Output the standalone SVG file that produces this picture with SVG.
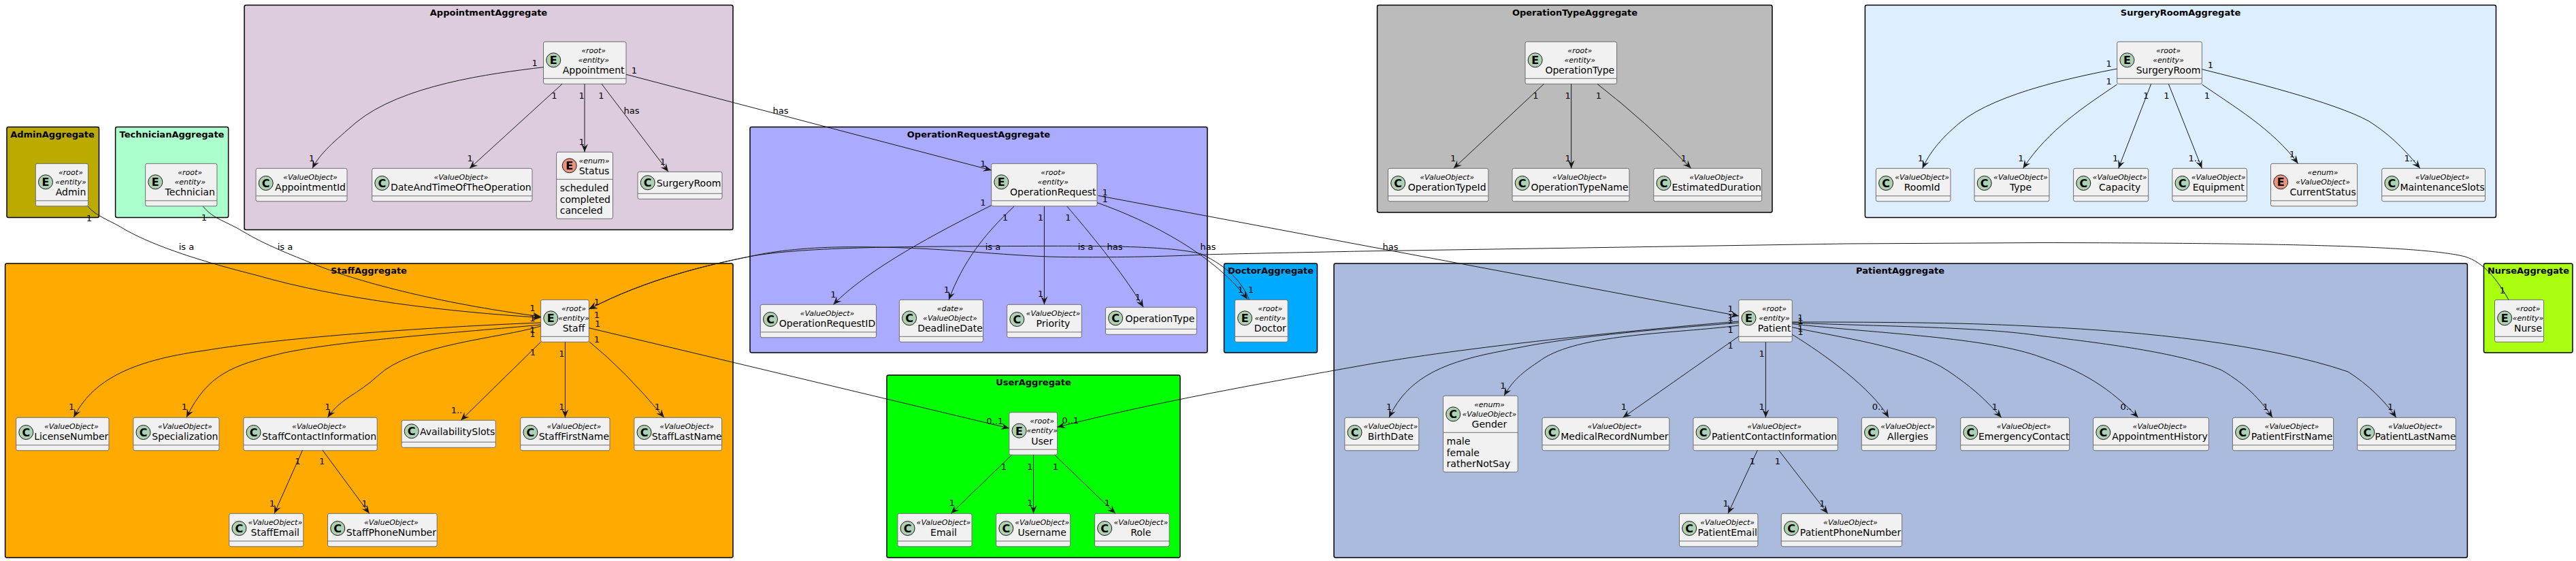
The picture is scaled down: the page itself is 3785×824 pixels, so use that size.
<svg xmlns="http://www.w3.org/2000/svg" width="3785" height="824" viewBox="0 0 3785 824">
<style>
text{font-family:"DejaVu Sans","Liberation Sans",sans-serif;fill:#000;text-anchor:middle}
.f{stroke:#000;stroke-width:1.5}
.ft{font-size:13px;font-weight:bold}
.b{fill:#F1F1F1;stroke:#6e6e6e;stroke-width:1}
.d{stroke:#6e6e6e;stroke-width:1}
.c{fill:#ADD1B2;stroke:#181818;stroke-width:1}
.r{fill:#EB937F;stroke:#181818;stroke-width:1}
.l{font-size:16px;font-weight:bold}
.s{font-size:11px;font-style:italic}
.n{font-size:14px}
.m{font-size:14px;text-anchor:start}
.e{fill:none;stroke:#181818;stroke-width:1}
.a{marker-end:url(#arr)}
.t{font-size:13px}
</style>
<defs>
<marker id="arr" markerUnits="userSpaceOnUse" markerWidth="14" markerHeight="13" refX="13" refY="6.5" orient="auto"><path d="M1,1.5 L13,6.5 L1,11.5 L5.5,6.5 Z" fill="#181818"/></marker>
</defs>
<rect width="3785" height="824" fill="#FFFFFF"/>

<g id="frames">
<g id="AdminAggregate"><rect class="f" x="10" y="186.5" width="135.5" height="133" rx="2.5" fill="#BBAA00"/><text class="ft" x="77" y="202">AdminAggregate</text></g>
<g id="TechnicianAggregate"><rect class="f" x="169.6" y="186.5" width="166" height="133" rx="2.5" fill="#AAFFCC"/><text class="ft" x="252.5" y="202">TechnicianAggregate</text></g>
<g id="AppointmentAggregate"><rect class="f" x="359" y="7.5" width="718" height="330" rx="2.5" fill="#DDCCDD"/><text class="ft" x="718" y="23">AppointmentAggregate</text></g>
<g id="StaffAggregate"><rect class="f" x="7.6" y="387" width="1069.4" height="432" rx="2.5" fill="#FFAA00"/><text class="ft" x="542" y="402">StaffAggregate</text></g>
<g id="OperationRequestAggregate"><rect class="f" x="1102" y="186.5" width="672" height="331.5" rx="2.5" fill="#AAAAFF"/><text class="ft" x="1438" y="202">OperationRequestAggregate</text></g>
<g id="DoctorAggregate"><rect class="f" x="1798.5" y="387" width="137" height="131" rx="2.5" fill="#00AAFF"/><text class="ft" x="1867" y="402">DoctorAggregate</text></g>
<g id="UserAggregate"><rect class="f" x="1303" y="551" width="431" height="268" rx="2.5" fill="#00FF00"/><text class="ft" x="1518.5" y="566">UserAggregate</text></g>
<g id="PatientAggregate"><rect class="f" x="1960" y="387" width="1665.4" height="432" rx="2.5" fill="#AABBDD"/><text class="ft" x="2792" y="402">PatientAggregate</text></g>
<g id="NurseAggregate"><rect class="f" x="3649.5" y="387" width="130.5" height="131" rx="2.5" fill="#AAFF11"/><text class="ft" x="3715" y="402">NurseAggregate</text></g>
<g id="OperationTypeAggregate"><rect class="f" x="2023.6" y="7.5" width="580.4" height="304.5" rx="2.5" fill="#BBBBBB"/><text class="ft" x="2314" y="23">OperationTypeAggregate</text></g>
<g id="SurgeryRoomAggregate"><rect class="f" x="2740.4" y="7.5" width="927.1" height="312" rx="2.5" fill="#DDEEFF"/><text class="ft" x="3204" y="23">SurgeryRoomAggregate</text></g>
</g>

<g id="nodes">
<g id="Admin"><rect class="b" x="52.3" y="240.3" width="77.2" height="62.5" rx="2.5"/><line class="d" x1="52.3" x2="129.5" y1="294.8" y2="294.8"/><circle class="c" cx="67" cy="267.3" r="10.5"/><text class="l" x="67" y="273.3">E</text><text class="s" x="104" y="256.7">«root»</text><text class="s" x="104" y="271">«entity»</text><text class="n" x="104" y="287.3">Admin</text></g>
<g id="Technician"><rect class="b" x="213.6" y="240.3" width="105.3" height="62.5" rx="2.5"/><line class="d" x1="213.6" x2="318.9" y1="294.8" y2="294.8"/><circle class="c" cx="228.3" cy="267.3" r="10.5"/><text class="l" x="228.3" y="273.3">E</text><text class="s" x="279.2" y="256.7">«root»</text><text class="s" x="279.2" y="271">«entity»</text><text class="n" x="279.2" y="287.3">Technician</text></g>
<g id="Appointment"><rect class="b" x="798.5" y="61.3" width="121.5" height="62" rx="2.5"/><line class="d" x1="798.5" x2="920" y1="115.3" y2="115.3"/><circle class="c" cx="813.2" cy="88.3" r="10.5"/><text class="l" x="813.2" y="94.3">E</text><text class="s" x="872.2" y="77.7">«root»</text><text class="s" x="872.2" y="92">«entity»</text><text class="n" x="872.2" y="108.3">Appointment</text></g>
<g id="AppointmentId"><rect class="b" x="376" y="247.3" width="134" height="48.5" rx="2.5"/><line class="d" x1="376" x2="510" y1="287.8" y2="287.8"/><circle class="c" cx="390.7" cy="269" r="10.5"/><text class="l" x="390.7" y="275">C</text><text class="s" x="456" y="264">«ValueObject»</text><text class="n" x="456" y="279.7">AppointmentId</text></g>
<g id="DateAndTimeOfTheOperation"><rect class="b" x="546.6" y="247.3" width="235.4" height="48.5" rx="2.5"/><line class="d" x1="546.6" x2="782" y1="287.8" y2="287.8"/><circle class="c" cx="561.3" cy="269" r="10.5"/><text class="l" x="561.3" y="275">C</text><text class="s" x="677.3" y="264">«ValueObject»</text><text class="n" x="677.3" y="279.7">DateAndTimeOfTheOperation</text></g>
<g id="Status"><rect class="b" x="817.6" y="223.3" width="82.9" height="98" rx="2.5"/><line class="d" x1="817.6" x2="900.5" y1="263.3" y2="263.3"/><circle class="r" cx="836.7" cy="243.3" r="10.5"/><text class="l" x="836.7" y="249.3">E</text><text class="s" x="873" y="240">«enum»</text><text class="n" x="873" y="256">Status</text><text class="m" x="822.7" y="280.5">scheduled</text><text class="m" x="822.7" y="297.5">completed</text><text class="m" x="822.7" y="314">canceled</text></g>
<g id="SurgeryRoom"><rect class="b" x="937" y="252.3" width="124" height="40" rx="2.5"/><line class="d" x1="937" x2="1061" y1="284.3" y2="284.3"/><circle class="c" cx="951.7" cy="268.3" r="10.5"/><text class="l" x="951.7" y="274.3">C</text><text class="n" x="1012" y="273.8">SurgeryRoom</text></g>

<g id="Staff"><rect class="b" x="794.6" y="440.3" width="70.8" height="62" rx="2.5"/><line class="d" x1="794.6" x2="865.4" y1="494.3" y2="494.3"/><circle class="c" cx="809.3" cy="467.3" r="10.5"/><text class="l" x="809.3" y="473.3">E</text><text class="s" x="843" y="456.7">«root»</text><text class="s" x="843" y="471">«entity»</text><text class="n" x="843" y="487.3">Staff</text></g>
<g id="LicenseNumber"><rect class="b" x="23.6" y="613.3" width="136.4" height="48.5" rx="2.5"/><line class="d" x1="23.6" x2="160" y1="653.8" y2="653.8"/><circle class="c" cx="38.3" cy="635" r="10.5"/><text class="l" x="38.3" y="641">C</text><text class="s" x="104.8" y="630">«ValueObject»</text><text class="n" x="104.8" y="645.7">LicenseNumber</text></g>
<g id="Specialization"><rect class="b" x="195.8" y="613.3" width="126.2" height="48.5" rx="2.5"/><line class="d" x1="195.8" x2="322" y1="653.8" y2="653.8"/><circle class="c" cx="210.5" cy="635" r="10.5"/><text class="l" x="210.5" y="641">C</text><text class="s" x="271.9" y="630">«ValueObject»</text><text class="n" x="271.9" y="645.7">Specialization</text></g>
<g id="StaffContactInformation"><rect class="b" x="357.8" y="613.3" width="196.4" height="48.5" rx="2.5"/><line class="d" x1="357.8" x2="554.2" y1="653.8" y2="653.8"/><circle class="c" cx="372.5" cy="635" r="10.5"/><text class="l" x="372.5" y="641">C</text><text class="s" x="469" y="630">«ValueObject»</text><text class="n" x="469" y="645.7">StaffContactInformation</text></g>
<g id="AvailabilitySlots"><rect class="b" x="590" y="617.3" width="138.3" height="40" rx="2.5"/><line class="d" x1="590" x2="728.3" y1="649.3" y2="649.3"/><circle class="c" cx="604.7" cy="633.3" r="10.5"/><text class="l" x="604.7" y="639.3">C</text><text class="n" x="672.2" y="638.8">AvailabilitySlots</text></g>
<g id="StaffFirstName"><rect class="b" x="764.7" y="613.3" width="131.3" height="48.5" rx="2.5"/><line class="d" x1="764.7" x2="896" y1="653.8" y2="653.8"/><circle class="c" cx="779.4" cy="635" r="10.5"/><text class="l" x="779.4" y="641">C</text><text class="s" x="843.4" y="630">«ValueObject»</text><text class="n" x="843.4" y="645.7">StaffFirstName</text></g>
<g id="StaffLastName"><rect class="b" x="931.8" y="613.3" width="128.8" height="48.5" rx="2.5"/><line class="d" x1="931.8" x2="1060.6" y1="653.8" y2="653.8"/><circle class="c" cx="946.5" cy="635" r="10.5"/><text class="l" x="946.5" y="641">C</text><text class="s" x="1009.2" y="630">«ValueObject»</text><text class="n" x="1009.2" y="645.7">StaffLastName</text></g>
<g id="StaffEmail"><rect class="b" x="336.7" y="754.3" width="109.1" height="48.5" rx="2.5"/><line class="d" x1="336.7" x2="445.8" y1="794.8" y2="794.8"/><circle class="c" cx="351.4" cy="776" r="10.5"/><text class="l" x="351.4" y="782">C</text><text class="s" x="404.3" y="771">«ValueObject»</text><text class="n" x="404.3" y="786.7">StaffEmail</text></g>
<g id="StaffPhoneNumber"><rect class="b" x="481.5" y="754.3" width="160.7" height="48.5" rx="2.5"/><line class="d" x1="481.5" x2="642.2" y1="794.8" y2="794.8"/><circle class="c" cx="496.2" cy="776" r="10.5"/><text class="l" x="496.2" y="782">C</text><text class="s" x="574.9" y="771">«ValueObject»</text><text class="n" x="574.9" y="786.7">StaffPhoneNumber</text></g>

<g id="OperationRequest"><rect class="b" x="1456.6" y="240.3" width="155.4" height="62.5" rx="2.5"/><line class="d" x1="1456.6" x2="1612" y1="294.8" y2="294.8"/><circle class="c" cx="1471.3" cy="267.3" r="10.5"/><text class="l" x="1471.3" y="273.3">E</text><text class="s" x="1547.3" y="256.7">«root»</text><text class="s" x="1547.3" y="271">«entity»</text><text class="n" x="1547.3" y="287.3">OperationRequest</text></g>
<g id="OperationRequestID"><rect class="b" x="1117.3" y="447.3" width="170.3" height="48.5" rx="2.5"/><line class="d" x1="1117.3" x2="1287.6" y1="487.8" y2="487.8"/><circle class="c" cx="1132" cy="469" r="10.5"/><text class="l" x="1132" y="475">C</text><text class="s" x="1215.5" y="464">«ValueObject»</text><text class="n" x="1215.5" y="479.7">OperationRequestID</text></g>
<g id="DeadlineDate"><rect class="b" x="1321.4" y="440.3" width="123.1" height="62" rx="2.5"/><line class="d" x1="1321.4" x2="1444.5" y1="494.3" y2="494.3"/><circle class="c" cx="1336.1" cy="467.3" r="10.5"/><text class="l" x="1336.1" y="473.3">C</text><text class="s" x="1396" y="456.7">«date»</text><text class="s" x="1396" y="471">«ValueObject»</text><text class="n" x="1396" y="487.3">DeadlineDate</text></g>
<g id="Priority"><rect class="b" x="1479.6" y="447.3" width="109.7" height="48.5" rx="2.5"/><line class="d" x1="1479.6" x2="1589.3" y1="487.8" y2="487.8"/><circle class="c" cx="1494.3" cy="469" r="10.5"/><text class="l" x="1494.3" y="475">C</text><text class="s" x="1547.5" y="464">«ValueObject»</text><text class="n" x="1547.5" y="479.7">Priority</text></g>
<g id="OperationTypeRef"><rect class="b" x="1624.4" y="451.3" width="133.9" height="40" rx="2.5"/><line class="d" x1="1624.4" x2="1758.3" y1="483.3" y2="483.3"/><circle class="c" cx="1639.1" cy="467.3" r="10.5"/><text class="l" x="1639.1" y="473.3">C</text><text class="n" x="1704.4" y="472.8">OperationType</text></g>
<g id="Doctor"><rect class="b" x="1814.4" y="440.3" width="77.8" height="62" rx="2.5"/><line class="d" x1="1814.4" x2="1892.2" y1="494.3" y2="494.3"/><circle class="c" cx="1829.1" cy="467.3" r="10.5"/><text class="l" x="1829.1" y="473.3">E</text><text class="s" x="1866.3" y="456.7">«root»</text><text class="s" x="1866.3" y="471">«entity»</text><text class="n" x="1866.3" y="487.3">Doctor</text></g>

<g id="User"><rect class="b" x="1482.8" y="605.7" width="70.8" height="62.5" rx="2.5"/><line class="d" x1="1482.8" x2="1553.6" y1="660.2" y2="660.2"/><circle class="c" cx="1497.5" cy="632.7" r="10.5"/><text class="l" x="1497.5" y="638.7">E</text><text class="s" x="1531.2" y="622">«root»</text><text class="s" x="1531.2" y="636.4">«entity»</text><text class="n" x="1531.2" y="652.7">User</text></g>
<g id="Email"><rect class="b" x="1318.9" y="754.3" width="109.1" height="48.5" rx="2.5"/><line class="d" x1="1318.9" x2="1428" y1="794.8" y2="794.8"/><circle class="c" cx="1333.6" cy="776" r="10.5"/><text class="l" x="1333.6" y="782">C</text><text class="s" x="1386.5" y="771">«ValueObject»</text><text class="n" x="1386.5" y="786.7">Email</text></g>
<g id="Username"><rect class="b" x="1463.6" y="754.3" width="109.1" height="48.5" rx="2.5"/><line class="d" x1="1463.6" x2="1572.7" y1="794.8" y2="794.8"/><circle class="c" cx="1478.3" cy="776" r="10.5"/><text class="l" x="1478.3" y="782">C</text><text class="s" x="1531.2" y="771">«ValueObject»</text><text class="n" x="1531.2" y="786.7">Username</text></g>
<g id="Role"><rect class="b" x="1608.4" y="754.3" width="109.7" height="48.5" rx="2.5"/><line class="d" x1="1608.4" x2="1718.1" y1="794.8" y2="794.8"/><circle class="c" cx="1623.1" cy="776" r="10.5"/><text class="l" x="1623.1" y="782">C</text><text class="s" x="1676.3" y="771">«ValueObject»</text><text class="n" x="1676.3" y="786.7">Role</text></g>

<g id="OperationType"><rect class="b" x="2241" y="61.3" width="134.6" height="62" rx="2.5"/><line class="d" x1="2241" x2="2375.6" y1="115.3" y2="115.3"/><circle class="c" cx="2255.7" cy="88.3" r="10.5"/><text class="l" x="2255.7" y="94.3">E</text><text class="s" x="2321.3" y="77.7">«root»</text><text class="s" x="2321.3" y="92">«entity»</text><text class="n" x="2321.3" y="108.3">OperationType</text></g>
<g id="OperationTypeId"><rect class="b" x="2039.5" y="247.3" width="147.4" height="48.5" rx="2.5"/><line class="d" x1="2039.5" x2="2186.9" y1="287.8" y2="287.8"/><circle class="c" cx="2054.2" cy="269" r="10.5"/><text class="l" x="2054.2" y="275">C</text><text class="s" x="2126.2" y="264">«ValueObject»</text><text class="n" x="2126.2" y="279.7">OperationTypeId</text></g>
<g id="OperationTypeName"><rect class="b" x="2222" y="247.3" width="172" height="48.5" rx="2.5"/><line class="d" x1="2222" x2="2394" y1="287.8" y2="287.8"/><circle class="c" cx="2236.7" cy="269" r="10.5"/><text class="l" x="2236.7" y="275">C</text><text class="s" x="2321" y="264">«ValueObject»</text><text class="n" x="2321" y="279.7">OperationTypeName</text></g>
<g id="EstimatedDuration"><rect class="b" x="2429.8" y="247.3" width="158.8" height="48.5" rx="2.5"/><line class="d" x1="2429.8" x2="2588.6" y1="287.8" y2="287.8"/><circle class="c" cx="2444.5" cy="269" r="10.5"/><text class="l" x="2444.5" y="275">C</text><text class="s" x="2522.2" y="264">«ValueObject»</text><text class="n" x="2522.2" y="279.7">EstimatedDuration</text></g>

<g id="SurgeryRoomRoot"><rect class="b" x="3110.7" y="61.3" width="124.7" height="62" rx="2.5"/><line class="d" x1="3110.7" x2="3235.4" y1="115.3" y2="115.3"/><circle class="c" cx="3125.4" cy="88.3" r="10.5"/><text class="l" x="3125.4" y="94.3">E</text><text class="s" x="3186" y="77.7">«root»</text><text class="s" x="3186" y="92">«entity»</text><text class="n" x="3186" y="108.3">SurgeryRoom</text></g>
<g id="RoomId"><rect class="b" x="2756.4" y="247.3" width="109.6" height="48.5" rx="2.5"/><line class="d" x1="2756.4" x2="2866" y1="287.8" y2="287.8"/><circle class="c" cx="2771.1" cy="269" r="10.5"/><text class="l" x="2771.1" y="275">C</text><text class="s" x="2824.2" y="264">«ValueObject»</text><text class="n" x="2824.2" y="279.7">RoomId</text></g>
<g id="Type"><rect class="b" x="2901" y="247.3" width="110" height="48.5" rx="2.5"/><line class="d" x1="2901" x2="3011" y1="287.8" y2="287.8"/><circle class="c" cx="2915.7" cy="269" r="10.5"/><text class="l" x="2915.7" y="275">C</text><text class="s" x="2969" y="264">«ValueObject»</text><text class="n" x="2969" y="279.7">Type</text></g>
<g id="Capacity"><rect class="b" x="3046.6" y="247.3" width="110.1" height="48.5" rx="2.5"/><line class="d" x1="3046.6" x2="3156.7" y1="287.8" y2="287.8"/><circle class="c" cx="3061.3" cy="269" r="10.5"/><text class="l" x="3061.3" y="275">C</text><text class="s" x="3114.7" y="264">«ValueObject»</text><text class="n" x="3114.7" y="279.7">Capacity</text></g>
<g id="Equipment"><rect class="b" x="3191.8" y="247.3" width="109.7" height="48.5" rx="2.5"/><line class="d" x1="3191.8" x2="3301.5" y1="287.8" y2="287.8"/><circle class="c" cx="3206.5" cy="269" r="10.5"/><text class="l" x="3206.5" y="275">C</text><text class="s" x="3259.7" y="264">«ValueObject»</text><text class="n" x="3259.7" y="279.7">Equipment</text></g>
<g id="CurrentStatus"><rect class="b" x="3336.5" y="240.3" width="127.2" height="62.5" rx="2.5"/><line class="d" x1="3336.5" x2="3463.7" y1="294.8" y2="294.8"/><circle class="r" cx="3351.2" cy="267.3" r="10.5"/><text class="l" x="3351.2" y="273.3">E</text><text class="s" x="3413.1" y="256.7">«enum»</text><text class="s" x="3413.1" y="271">«ValueObject»</text><text class="n" x="3413.1" y="287.3">CurrentStatus</text></g>
<g id="MaintenanceSlots"><rect class="b" x="3499.7" y="247.3" width="151.8" height="48.5" rx="2.5"/><line class="d" x1="3499.7" x2="3651.5" y1="287.8" y2="287.8"/><circle class="c" cx="3514.4" cy="269" r="10.5"/><text class="l" x="3514.4" y="275">C</text><text class="s" x="3588.6" y="264">«ValueObject»</text><text class="n" x="3588.6" y="279.7">MaintenanceSlots</text></g>

<g id="Patient"><rect class="b" x="2554.8" y="440.3" width="78.5" height="62" rx="2.5"/><line class="d" x1="2554.8" x2="2633.3" y1="494.3" y2="494.3"/><circle class="c" cx="2569.5" cy="467.3" r="10.5"/><text class="l" x="2569.5" y="473.3">E</text><text class="s" x="2607" y="456.7">«root»</text><text class="s" x="2607" y="471">«entity»</text><text class="n" x="2607" y="487.3">Patient</text></g>
<g id="BirthDate"><rect class="b" x="1975.8" y="613.3" width="109" height="48.5" rx="2.5"/><line class="d" x1="1975.8" x2="2084.8" y1="653.8" y2="653.8"/><circle class="c" cx="1990.5" cy="635" r="10.5"/><text class="l" x="1990.5" y="641">C</text><text class="s" x="2043.3" y="630">«ValueObject»</text><text class="n" x="2043.3" y="645.7">BirthDate</text></g>
<g id="Gender"><rect class="b" x="2120.5" y="581.3" width="109.7" height="112" rx="2.5"/><line class="d" x1="2120.5" x2="2230.2" y1="635.3" y2="635.3"/><circle class="c" cx="2135.2" cy="608.3" r="10.5"/><text class="l" x="2135.2" y="614.3">C</text><text class="s" x="2188.4" y="597.7">«enum»</text><text class="s" x="2188.4" y="612">«ValueObject»</text><text class="n" x="2188.4" y="628.3">Gender</text><text class="m" x="2125.6" y="652.5">male</text><text class="m" x="2125.6" y="669.5">female</text><text class="m" x="2125.6" y="685.5">ratherNotSay</text></g>
<g id="MedicalRecordNumber"><rect class="b" x="2266" y="613.3" width="186.8" height="48.5" rx="2.5"/><line class="d" x1="2266" x2="2452.8" y1="653.8" y2="653.8"/><circle class="c" cx="2280.7" cy="635" r="10.5"/><text class="l" x="2280.7" y="641">C</text><text class="s" x="2372.4" y="630">«ValueObject»</text><text class="n" x="2372.4" y="645.7">MedicalRecordNumber</text></g>
<g id="PatientContactInformation"><rect class="b" x="2487.9" y="613.3" width="212.4" height="48.5" rx="2.5"/><line class="d" x1="2487.9" x2="2700.3" y1="653.8" y2="653.8"/><circle class="c" cx="2502.6" cy="635" r="10.5"/><text class="l" x="2502.6" y="641">C</text><text class="s" x="2607.1" y="630">«ValueObject»</text><text class="n" x="2607.1" y="645.7">PatientContactInformation</text></g>
<g id="Allergies"><rect class="b" x="2735.3" y="613.3" width="109.7" height="48.5" rx="2.5"/><line class="d" x1="2735.3" x2="2845" y1="653.8" y2="653.8"/><circle class="c" cx="2750" cy="635" r="10.5"/><text class="l" x="2750" y="641">C</text><text class="s" x="2803.2" y="630">«ValueObject»</text><text class="n" x="2803.2" y="645.7">Allergies</text></g>
<g id="EmergencyContact"><rect class="b" x="2880.7" y="613.3" width="159.9" height="48.5" rx="2.5"/><line class="d" x1="2880.7" x2="3040.6" y1="653.8" y2="653.8"/><circle class="c" cx="2895.4" cy="635" r="10.5"/><text class="l" x="2895.4" y="641">C</text><text class="s" x="2973.7" y="630">«ValueObject»</text><text class="n" x="2973.7" y="645.7">EmergencyContact</text></g>
<g id="AppointmentHistory"><rect class="b" x="3075.6" y="613.3" width="169.8" height="48.5" rx="2.5"/><line class="d" x1="3075.6" x2="3245.4" y1="653.8" y2="653.8"/><circle class="c" cx="3090.3" cy="635" r="10.5"/><text class="l" x="3090.3" y="641">C</text><text class="s" x="3173.5" y="630">«ValueObject»</text><text class="n" x="3173.5" y="645.7">AppointmentHistory</text></g>
<g id="PatientFirstName"><rect class="b" x="3280.4" y="613.3" width="148.2" height="48.5" rx="2.5"/><line class="d" x1="3280.4" x2="3428.6" y1="653.8" y2="653.8"/><circle class="c" cx="3295.1" cy="635" r="10.5"/><text class="l" x="3295.1" y="641">C</text><text class="s" x="3367.5" y="630">«ValueObject»</text><text class="n" x="3367.5" y="645.7">PatientFirstName</text></g>
<g id="PatientLastName"><rect class="b" x="3463.7" y="613.3" width="144.7" height="48.5" rx="2.5"/><line class="d" x1="3463.7" x2="3608.4" y1="653.8" y2="653.8"/><circle class="c" cx="3478.4" cy="635" r="10.5"/><text class="l" x="3478.4" y="641">C</text><text class="s" x="3549" y="630">«ValueObject»</text><text class="n" x="3549" y="645.7">PatientLastName</text></g>
<g id="PatientEmail"><rect class="b" x="2467.5" y="754.3" width="115.4" height="48.5" rx="2.5"/><line class="d" x1="2467.5" x2="2582.9" y1="794.8" y2="794.8"/><circle class="c" cx="2482.2" cy="776" r="10.5"/><text class="l" x="2482.2" y="782">C</text><text class="s" x="2538.2" y="771">«ValueObject»</text><text class="n" x="2538.2" y="786.7">PatientEmail</text></g>
<g id="PatientPhoneNumber"><rect class="b" x="2617.3" y="754.3" width="177.3" height="48.5" rx="2.5"/><line class="d" x1="2617.3" x2="2794.6" y1="794.8" y2="794.8"/><circle class="c" cx="2632" cy="776" r="10.5"/><text class="l" x="2632" y="782">C</text><text class="s" x="2719" y="771">«ValueObject»</text><text class="n" x="2719" y="786.7">PatientPhoneNumber</text></g>
<g id="Nurse"><rect class="b" x="3665.5" y="440.3" width="72.1" height="62" rx="2.5"/><line class="d" x1="3665.5" x2="3737.6" y1="494.3" y2="494.3"/><circle class="c" cx="3680.2" cy="467.3" r="10.5"/><text class="l" x="3680.2" y="473.3">E</text><text class="s" x="3714.5" y="456.7">«root»</text><text class="s" x="3714.5" y="471">«entity»</text><text class="n" x="3714.5" y="487.3">Nurse</text></g>
</g>

<g id="connectors">
<path class="e a" d="M129,303 C141,318 165,325 185,338 C230,363 300,385 376,404 C500,440 660,458 794.6,466.5"/>
<path class="e a" d="M298.5,303.3 C313,322 335,326 357,340 C390,360 430,375 459,387 C520,412 640,445 794.6,465"/>
<path class="e a" d="M1835.5,440 C1825,415 1805,392 1765,373 C1720,361 1620,361 1500,361.5 C1350,362 1180,362 1102,376.7 C1040,389 950,410 865.4,454"/>
<path class="e a" d="M3686,440.3 C3670,412 3650,385 3621,376.7 C3560,362 3380,357 3000,356.5 L2713,358 L2000,369 C1950,370 1800,373 1771,374 C1680,378 1620,378 1560,377.5 C1470,376 1380,362 1249,362.7 C1190,363 1140,368 1102,376.7 C1040,389 950,410 865.4,454"/>
<path class="e a" d="M865.4,481.7 L1482.8,629"/>
<path class="e a" d="M2554.8,472 C2400,485 2150,510 2000,537 C1860,562 1700,590 1553.6,627.3"/>
<path class="e a" d="M794.6,474 C640,480 420,495 300,515 C190,530 135,560 108.4,613"/>
<path class="e a" d="M794.6,477 C680,488 500,500 414,519 C340,537 305,550 274,613"/>
<path class="e a" d="M794.6,479 C735,497 605,505 555,552 C525,580 500,585 481.5,613"/>
<path class="e a" d="M794.6,502.3 L677.3,617.3"/>
<path class="e a" d="M830.4,502.3 L830.4,613.3"/>
<path class="e a" d="M866,502 Q918,544 975.8,613.3"/>
<path class="e a" d="M444.5,661.3 L403,754.3"/>
<path class="e a" d="M474,661.3 L542.7,754.3"/>
<path class="e a" d="M798.5,98.7 C720,108 590,125 523,180 C492,207 470,225 459,247.3"/>
<path class="e a" d="M826,123.3 L690,247.3"/>
<path class="e a" d="M859,123.3 L859,223.3"/>
<path class="e a" d="M884,123.3 L982,252.3"/>
<path class="e a" d="M920,109.3 L1456.6,250"/>
<path class="e a" d="M1456.6,301.7 C1380,340 1275,395 1224.5,447.3"/>
<path class="e a" d="M1490,303.3 C1445,345 1415,385 1394,440.3"/>
<path class="e a" d="M1534.4,303.3 L1534.4,447.3"/>
<path class="e a" d="M1568,303.3 C1595,335 1650,400 1680,451.3"/>
<path class="e a" d="M1612,297.7 C1690,325 1785,375 1833,439.5"/>
<path class="e a" d="M1613.5,287.3 L2554.8,464"/>
<path class="e a" d="M1486.6,668.3 L1397.3,754.3"/>
<path class="e a" d="M1518.5,668.3 L1518.5,754.3"/>
<path class="e a" d="M1549.7,668.3 L1639,754.3"/>
<path class="e a" d="M2268.5,123.3 L2135.8,247.3"/>
<path class="e a" d="M2308.7,123.3 L2308.7,247.3"/>
<path class="e a" d="M2347,123.3 Q2420,180 2484.7,247.3"/>
<path class="e a" d="M3110.7,101 C3060,111 2935,135 2880,180 C2850,205 2835,225 2824.6,247.3"/>
<path class="e a" d="M3110.7,124 C3065,155 3010,190 2972.5,247.3"/>
<path class="e a" d="M3160.7,123.3 L3112.7,247.3"/>
<path class="e a" d="M3186.3,123.3 L3235.4,247.3"/>
<path class="e a" d="M3235.4,124 C3280,155 3340,190 3376.6,240.3"/>
<path class="e a" d="M3235.4,101.7 C3300,118 3430,150 3480.7,178 C3515,200 3535,222 3555.9,247.3"/>
<path class="e a" d="M2554.8,474 C2420,485 2300,495 2210,515 C2130,530 2070,550 2041,613.3"/>
<path class="e a" d="M2554.8,478 C2460,490 2330,490 2270,525 C2240,545 2225,555 2210,581.3"/>
<path class="e a" d="M2554.8,494 L2384.6,613.3"/>
<path class="e a" d="M2594.4,502.3 L2594.4,613.3"/>
<path class="e a" d="M2582.3,661.3 L2539,754.3"/>
<path class="e a" d="M2613.5,661.3 L2685.6,754.3"/>
<path class="e a" d="M2633.3,491.3 C2680,520 2750,570 2775,613.3"/>
<path class="e a" d="M2633.3,480.7 C2700,495 2810,510 2861,544 C2900,570 2920,590 2940.7,613.3"/>
<path class="e a" d="M2633.3,475.7 C2760,490 2920,495 3000,525 C3060,545 3100,570 3141.7,613.3"/>
<path class="e a" d="M2633.3,474 C2780,480 2910,480 3000,493.5 C3100,505 3210,520 3265,544 C3300,565 3320,585 3339,613.3"/>
<path class="e a" d="M2633.3,473 C2780,473 2900,474 3000,480 C3150,487 3330,505 3450,546 C3480,565 3505,590 3520.8,613.3"/>

<g id="labels">
<text class="t" x="274" y="367">is a</text><text class="t" x="419" y="367">is a</text><text class="t" x="928" y="167">has</text><text class="t" x="1147" y="167">has</text><text class="t" x="1459" y="367">is a</text><text class="t" x="1595" y="367">is a</text><text class="t" x="1638" y="367">has</text><text class="t" x="1775" y="367">has</text><text class="t" x="2043" y="367">has</text>
<text class="t" x="131" y="325">1</text><text class="t" x="300" y="324">1</text>
<text class="t" x="785.7" y="96.5">1</text><text class="t" x="931.8" y="108">1</text><text class="t" x="814.4" y="145">1</text><text class="t" x="854.6" y="145">1</text><text class="t" x="883.3" y="145">1</text><text class="t" x="458" y="237">1</text><text class="t" x="690.7" y="237">1</text><text class="t" x="854.6" y="212.5">1</text><text class="t" x="974" y="241.5">1</text>
<text class="t" x="1444.5" y="245">1</text><text class="t" x="1444.5" y="301.5">1</text><text class="t" x="1477" y="324">1</text><text class="t" x="1529" y="324">1</text><text class="t" x="1569.5" y="324">1</text><text class="t" x="1623.7" y="286.5">1</text><text class="t" x="1623.7" y="297">1</text>
<text class="t" x="1224.5" y="437">1</text><text class="t" x="1391" y="429.5">1</text><text class="t" x="1529" y="436">1</text><text class="t" x="1672" y="441">1</text><text class="t" x="1822.7" y="429.5">1</text><text class="t" x="1838" y="429.5">1</text>
<text class="t" x="782.5" y="457">1</text><text class="t" x="782.5" y="472">1</text><text class="t" x="782.5" y="489">1</text><text class="t" x="782.5" y="495">1</text><text class="t" x="783" y="522">1</text><text class="t" x="825.3" y="524">1</text><text class="t" x="877" y="448">1</text><text class="t" x="877" y="466.5">1</text><text class="t" x="878.2" y="479.5">1</text><text class="t" x="877" y="503">1</text>
<text class="t" x="105.2" y="602">1</text><text class="t" x="271" y="602">1</text><text class="t" x="481.5" y="602">1</text><text class="t" x="671" y="606.5">1..</text><text class="t" x="825.3" y="602">1</text><text class="t" x="966" y="602">1</text>
<text class="t" x="437.5" y="682">1</text><text class="t" x="473.2" y="682">1</text><text class="t" x="400" y="744">1</text><text class="t" x="535.7" y="744">1</text>
<text class="t" x="1461.7" y="623">0..1</text><text class="t" x="1572.7" y="622">0..1</text><text class="t" x="1475" y="690">1</text><text class="t" x="1513.4" y="690">1</text><text class="t" x="1551" y="690">1</text><text class="t" x="1398.6" y="743">1</text><text class="t" x="1513.4" y="743">1</text><text class="t" x="1627" y="743">1</text>
<text class="t" x="2256.4" y="145">1</text><text class="t" x="2303.6" y="145">1</text><text class="t" x="2348.9" y="145">1</text><text class="t" x="2135.2" y="237">1</text><text class="t" x="2303.6" y="237">1</text><text class="t" x="2473.9" y="237">1</text>
<text class="t" x="3098.6" y="98">1</text><text class="t" x="3098.6" y="124">1</text><text class="t" x="3153.2" y="145">1</text><text class="t" x="3183.3" y="145">1</text><text class="t" x="3242.9" y="145">1</text><text class="t" x="3247.9" y="100">1</text><text class="t" x="2822" y="237">1</text><text class="t" x="2969.4" y="237">1</text><text class="t" x="3108.2" y="237">1</text><text class="t" x="3223.8" y="237">1..</text><text class="t" x="3368" y="230.5">1</text><text class="t" x="3540.8" y="237">1..</text>
<text class="t" x="2542.7" y="458">1</text><text class="t" x="2542.7" y="470.5">1</text><text class="t" x="2542.7" y="475">1</text><text class="t" x="2542.7" y="489">1</text><text class="t" x="2542.7" y="511.5">1</text><text class="t" x="2588.6" y="524">1</text><text class="t" x="2645.4" y="470.5">1</text><text class="t" x="2645.4" y="475.5">1</text><text class="t" x="2645.4" y="487">1</text><text class="t" x="2645.4" y="491.5">1</text>
<text class="t" x="2040.8" y="602">1</text><text class="t" x="2208.5" y="570.5">1</text><text class="t" x="2385.8" y="602">1</text><text class="t" x="2588.6" y="602">1</text><text class="t" x="2759" y="602">0..</text><text class="t" x="2931" y="602">1</text><text class="t" x="3123.7" y="602">0..</text><text class="t" x="3329" y="602">1</text><text class="t" x="3512.3" y="602">1</text>
<text class="t" x="2575" y="682">1</text><text class="t" x="2612" y="682">1</text><text class="t" x="2535.7" y="744">1</text><text class="t" x="2677.3" y="744">1</text>
<text class="t" x="3677" y="431">1</text>
</g>
</g>
</svg>
